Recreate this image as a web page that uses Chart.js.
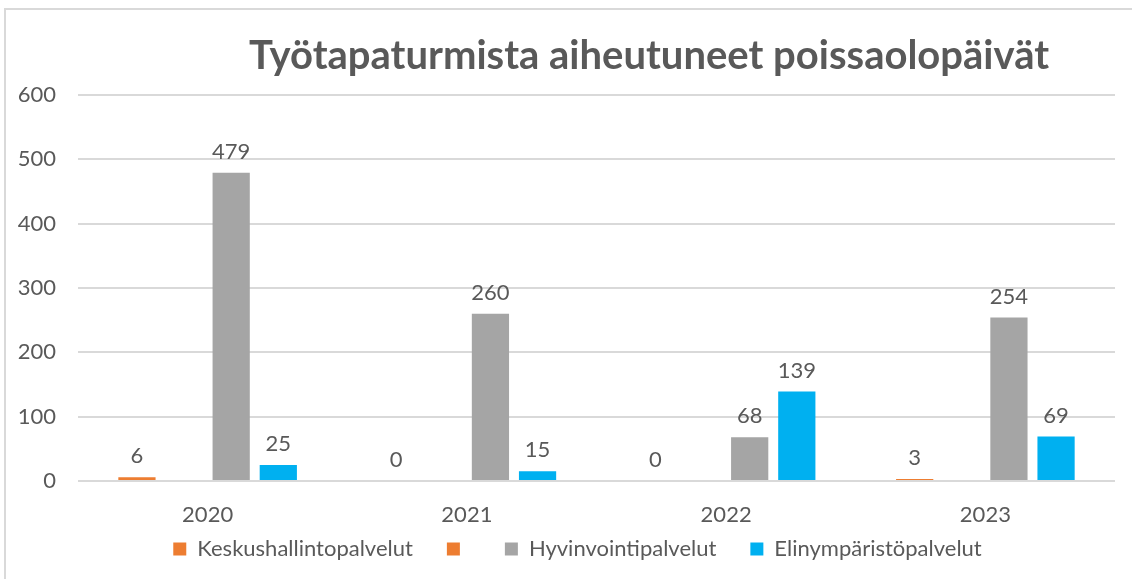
<!DOCTYPE html>
<html>
<head>
<meta charset="utf-8">
<script src="https://cdn.jsdelivr.net/npm/chart.js@4"></script>
<style>
  body { margin: 0; background: #fff; }
  #wrap { position: relative; width: 1132px; height: 579px; }
  #frame { position: absolute; left: 4px; top: 8px; right: 0; bottom: 0;
           border-top: 2px solid #d9d9d9; border-left: 2px solid #d9d9d9; pointer-events: none; }
  canvas { position: absolute; left: 0; top: 0; }
</style>
</head>
<body>
<div id="wrap">
  <canvas id="chart" width="1132" height="579"></canvas>
  <div id="frame"></div>
</div>
<script>
const years = ['2020', '2021', '2022', '2023'];
const keskushallinto = [6, 0, 0, 3];
const tyhja = [null, null, null, null];
const hyvinvointi = [479, 260, 68, 254];
const elinymparisto = [25, 15, 139, 69];
const yTicks = [0, 100, 200, 300, 400, 500, 600];

const titleText = 'Työtapaturmista aiheutuneet poissaolopäivät';
const textColor = '#595959';

// heading sits a bit right of centre in the original
const headingPlugin = {
    id: 'heading',
    afterDraw(chart) {
        const ctx = chart.ctx;
        ctx.save();
        ctx.font = 'bold 40px Lato';
        ctx.fillStyle = textColor;
        ctx.textAlign = 'center';
        ctx.textBaseline = 'alphabetic';
        ctx.fillText(titleText, 649, 69);
        ctx.restore();
    }
};

// legend padding also pads vertically, so cap its height and draw it higher
const legendTweak = {
    id: 'legendTweak',
    beforeLayout(chart) {
        const lg = chart.legend;
        if (!lg || lg._patched) return;
        const fit = lg.fit;
        lg.fit = function () { fit.call(this); this.height = 51; };
        const draw = lg.draw;
        lg.draw = function () {
            const top = this.top;
            this.top = top - 24;
            this.ctx.save();
            this.ctx.translate(20, 0);
            draw.call(this);
            this.ctx.restore();
            this.top = top;
        };
        lg._patched = true;
    }
};

// value labels above the bars
const valueLabels = {
    id: 'valueLabels',
    afterDatasetsDraw(chart) {
        const ctx = chart.ctx;
        ctx.save();
        ctx.font = '22px Lato';
        ctx.fillStyle = textColor;
        ctx.textAlign = 'center';
        ctx.textBaseline = 'bottom';
        chart.data.datasets.forEach((ds, i) => {
            if (!ds.label) return;
            chart.getDatasetMeta(i).data.forEach((bar, j) => {
                const v = ds.data[j];
                if (v === null) return;
                ctx.fillText(String(v), bar.x, bar.y - 10);
            });
        });
        ctx.restore();
    }
};

const ctx = document.getElementById('chart').getContext('2d');
new Chart(ctx, {
    type: 'bar',
    data: {
        labels: years,
        datasets: [
            { label: 'Keskushallintopalvelut', data: keskushallinto, backgroundColor: '#ED7D31' },
            { label: '', data: tyhja, backgroundColor: '#ED7D31' },
            { label: 'Hyvinvointipalvelut', data: hyvinvointi, backgroundColor: '#A5A5A5' },
            { label: 'Elinympäristöpalvelut', data: elinymparisto, backgroundColor: '#00B0F0' }
        ]
    },
    options: {
        responsive: false,
        animation: false,
        categoryPercentage: 0.727,
        barPercentage: 0.79,
        layout: { padding: { top: 95, right: 17, bottom: 0, left: 0 } },
        plugins: {
            title: { display: false },
            tooltip: { enabled: false },
            legend: {
                position: 'bottom',
                labels: {
                    color: textColor,
                    font: { family: 'Lato', size: 22 },
                    boxWidth: 13,
                    boxHeight: 13,
                    padding: 34
                }
            }
        },
        scales: {
            x: {
                afterFit(scale) { scale.height = 47; },
                grid: { display: false, drawTicks: false },
                border: { display: false },
                ticks: { color: textColor, font: { family: 'Lato', size: 22 }, padding: 21 }
            },
            y: {
                min: 0,
                max: 600,
                afterBuildTicks(scale) {
                    scale.ticks = yTicks.map(v => ({ value: v }));
                },
                afterFit(scale) { scale.width = 78; },
                grid: { color: '#d9d9d9', lineWidth: 2, drawTicks: false },
                border: { display: false },
                ticks: { color: textColor, font: { family: 'Lato', size: 22 }, padding: 22 }
            }
        }
    },
    plugins: [headingPlugin, legendTweak, valueLabels]
});
</script>
</body>
</html>
